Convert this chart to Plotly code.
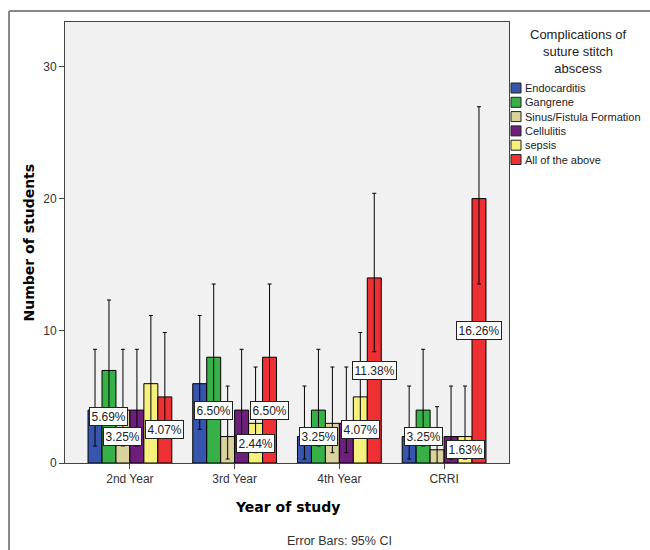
import plotly.graph_objects as go

groups = ["2nd Year", "3rd Year", "4th Year", "CRRI"]
series = ["Endocarditis", "Gangrene", "Sinus/Fistula Formation", "Cellulitis", "sepsis", "All of the above"]
colors = ["#3656ae", "#37b048", "#d9d29c", "#6e1f7c", "#f6f07c", "#ee2f33"]

endocarditis = [4, 6, 2, 2]
gangrene = [7, 8, 4, 4]
sinus = [4, 2, 3, 1]
cellulitis = [4, 4, 3, 2]
sepsis = [6, 3, 5, 2]
all_above = [5, 8, 14, 20]

endocarditis_lo = [1.29, 2.55, 0.3, 0.3]
endocarditis_hi = [8.6, 11.16, 5.82, 5.82]
gangrene_lo = [3.1, 3.7, 1.29, 1.29]
gangrene_hi = [12.33, 13.54, 8.6, 8.6]
sinus_lo = [1.29, 0.3, 0.78, -0.5]
sinus_hi = [8.6, 5.82, 7.26, 4.26]
cellulitis_lo = [1.29, 1.29, 0.78, 0.3]
cellulitis_hi = [8.6, 8.6, 7.26, 5.82]
sepsis_lo = [2.55, 0.78, 1.93, 0.3]
sepsis_hi = [11.16, 7.26, 9.87, 5.82]
all_lo = [1.93, 3.7, 8.42, 13.54]
all_hi = [9.87, 13.54, 20.4, 26.95]

counts = [endocarditis, gangrene, sinus, cellulitis, sepsis, all_above]
lows = [endocarditis_lo, gangrene_lo, sinus_lo, cellulitis_lo, sepsis_lo, all_lo]
highs = [endocarditis_hi, gangrene_hi, sinus_hi, cellulitis_hi, sepsis_hi, all_hi]

total_n = 123
label_points = [(0, 1), (0, 2), (0, 5), (1, 1), (1, 4), (1, 5),
                (2, 1), (2, 4), (2, 5), (3, 1), (3, 4), (3, 5)]

legend_title = "Complications of<br>suture stitch<br>abscess"
y_ticks = [0, 10, 20, 30]

FONT = "Arial, Liberation Sans, sans-serif"
BOLD = "DejaVu Sans, Verdana, sans-serif"

# pixel geometry helpers
L, R, T, B = 65, 509, 22, 463
W, H = 650, 550
def px(xp):
    return (xp - L) / (R - L)
def py(yp):
    return (B - yp) / (B - T)

fig = go.Figure()
xs = list(range(len(groups)))
for name, col, c, lo, hi in zip(series, colors, counts, lows, highs):
    fig.add_trace(go.Bar(
        x=xs, y=c, name=name,
        marker=dict(color=col, line=dict(color="black", width=1)),
        error_y=dict(type="data", symmetric=False,
                     array=[h - v for h, v in zip(hi, c)],
                     arrayminus=[v - l for v, l in zip(c, lo)],
                     color="black", thickness=1, width=2),
        showlegend=False,
    ))

ann = []
nser = len(series)
gw = 0.8
for g, s in label_points:
    v = counts[s][g]
    xpos = g - gw / 2 + (s + 0.5) * gw / nser
    ann.append(dict(x=xpos, y=v / 2, xref="x", yref="y",
                    text=f"{v / total_n * 100:.2f}%", showarrow=False,
                    xanchor="center", yanchor="middle",
                    font=dict(family=FONT, size=12, color="#222"),
                    bgcolor="white", bordercolor="#222", borderwidth=1, borderpad=1.5))

# axis titles and footnote
ann.append(dict(x=0.5, y=py(507), xref="paper", yref="paper", text="<b>Year of study</b>",
                xanchor="center", yanchor="middle",
                showarrow=False, font=dict(family=BOLD, size=14, color="black")))
ann.append(dict(x=px(28), y=0.5, xref="paper", yref="paper", text="<b>Number of students</b>",
                xanchor="center", yanchor="middle",
                showarrow=False, textangle=-90, font=dict(family=BOLD, size=14, color="black")))
ann.append(dict(x=px(339), y=py(541), xref="paper", yref="paper", text="Error Bars: 95% CI",
                xanchor="center", yanchor="middle",
                showarrow=False, font=dict(family=FONT, size=12.5, color="#333")))

# manual legend
ann.append(dict(x=px(578), y=py(51), xref="paper", yref="paper", text=legend_title,
                xanchor="center", yanchor="middle",
                showarrow=False, align="center",
                font=dict(family=FONT, size=13, color="#222")))
shapes = []
for i, (name, col) in enumerate(zip(series, colors)):
    cy = 88 + 14.3 * i
    shapes.append(dict(type="rect", xref="paper", yref="paper",
                       x0=px(511), x1=px(521), y0=py(cy + 5), y1=py(cy - 5),
                       fillcolor=col, line=dict(color="#222", width=1)))
    ann.append(dict(x=px(523), y=py(cy), xref="paper", yref="paper", text=name,
                    xanchor="left", yanchor="middle", showarrow=False,
                    font=dict(family=FONT, size=11, color="#222")))

# outer frame (left and top)
shapes.append(dict(type="line", xref="paper", yref="paper",
                   x0=px(9), x1=px(9), y0=py(11), y1=py(560), line=dict(color="#888", width=2)))
shapes.append(dict(type="line", xref="paper", yref="paper",
                   x0=px(9), x1=px(660), y0=py(11), y1=py(11), line=dict(color="#888", width=2)))

fig.update_layout(
    width=W, height=H,
    margin=dict(l=L, r=W - R, t=T, b=H - B),
    barmode="group", bargap=0.2, bargroupgap=0,
    plot_bgcolor="#f1f1f1", paper_bgcolor="white",
    annotations=ann, shapes=shapes,
    font=dict(family=FONT, size=12, color="#333"),
)
fig.update_xaxes(range=[-0.62, 3.62], tickvals=xs, ticktext=groups,
                 showline=True, linecolor="#444", linewidth=1, mirror=True,
                 ticks="outside", ticklen=5, tickcolor="#444", showgrid=False, zeroline=False,
                 tickfont=dict(family=FONT, size=12, color="#333"))
fig.update_yaxes(range=[0, (B - T) / 13.22], tickvals=y_ticks,
                 showline=True, linecolor="#444", linewidth=1, mirror=True,
                 ticks="outside", ticklen=5, tickcolor="#444", showgrid=False, zeroline=False,
                 tickfont=dict(family=FONT, size=12, color="#333"))

fig.write_html("out.html")
